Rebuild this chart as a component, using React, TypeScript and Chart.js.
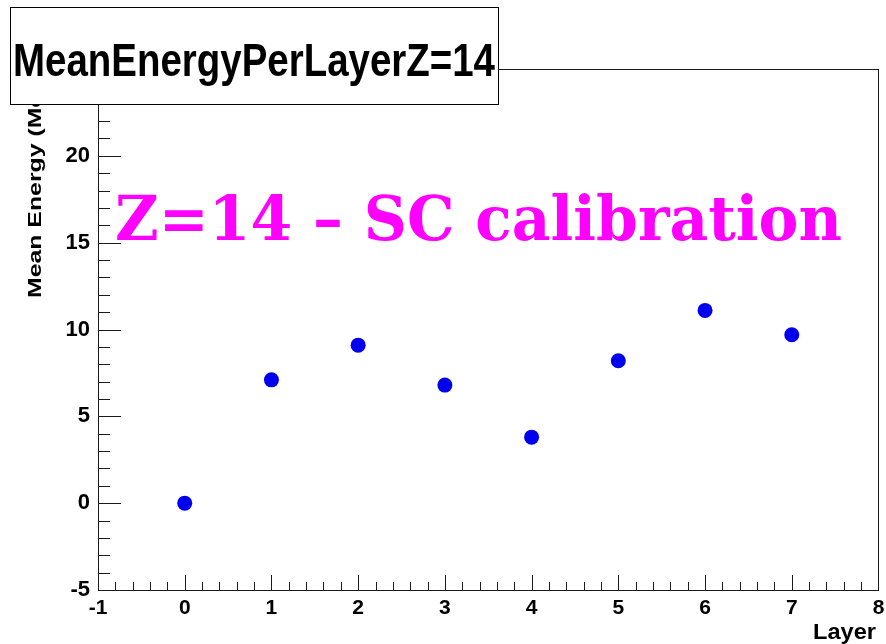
import React, { useEffect, useRef } from "react";
import { Chart, registerables } from "chart.js";

Chart.register(...registerables);

// Mean deposited energy for each calorimeter layer (Z=14)
const layers = [0, 1, 2, 3, 4, 5, 6, 7];
const meanEnergy = [0.0, 7.1, 9.1, 6.8, 3.8, 8.2, 11.1, 9.7];

// Axis ranges and tick steps
const xRange = [-1, 8];
const yRange = [-5, 25];
const xMajorStep = 1;
const xMinorStep = 0.2;
const yMajorStep = 5;
const yMinorStep = 1;

// Text
const titleText = "MeanEnergyPerLayerZ=14";
const noteText = "Z=14 \u2013 SC calibration";
const xTitle = "Layer";
const yTitle = "Mean Energy (MeV)";

const W = 886;
const H = 644;
const SANS = "'Liberation Sans', Arial, sans-serif";

// Draw text squeezed/stretched along its run so it spans a given length.
function fitText(
  ctx: CanvasRenderingContext2D,
  text: string,
  font: string,
  x: number,
  y: number,
  length: number,
  rotate = 0
) {
  ctx.save();
  ctx.font = font;
  const w = ctx.measureText(text).width;
  ctx.translate(x, y);
  if (rotate) ctx.rotate(rotate);
  ctx.scale(length / w, 1);
  ctx.textAlign = "left";
  ctx.textBaseline = "alphabetic";
  ctx.fillText(text, 0, 0);
  ctx.restore();
}

const frameAndTicks = {
  id: "frameAndTicks",
  afterDatasetsDraw(chart: any) {
    const { ctx, chartArea, scales } = chart;
    const { left, right, top, bottom } = chartArea;
    const xs = scales.x;
    const ys = scales.y;
    ctx.save();
    ctx.strokeStyle = "#1a1a1a";
    ctx.lineWidth = 1;
    ctx.beginPath();
    // x ticks, pointing into the frame
    const nx = Math.round((xRange[1] - xRange[0]) / xMinorStep);
    const perMajorX = Math.round(xMajorStep / xMinorStep);
    for (let i = 1; i < nx; i++) {
      const v = xRange[0] + i * xMinorStep;
      const px = Math.round(xs.getPixelForValue(v)) + 0.5;
      const len = i % perMajorX === 0 ? 15 : 8;
      ctx.moveTo(px, bottom);
      ctx.lineTo(px, bottom - len);
    }
    // y ticks, pointing into the frame
    const ny = Math.round((yRange[1] - yRange[0]) / yMinorStep);
    const perMajorY = Math.round(yMajorStep / yMinorStep);
    for (let i = 1; i < ny; i++) {
      const v = yRange[0] + i * yMinorStep;
      const py = Math.round(ys.getPixelForValue(v)) + 0.5;
      const len = i % perMajorY === 0 ? 23 : 12;
      ctx.moveTo(left, py);
      ctx.lineTo(left + len, py);
    }
    ctx.stroke();
    // frame
    ctx.strokeRect(
      Math.round(left) + 0.5,
      Math.round(top) + 0.5,
      Math.round(right - left) - 1,
      Math.round(bottom - top)
    );
    ctx.restore();
  },
  afterDraw(chart: any) {
    const { ctx } = chart;
    ctx.save();
    ctx.fillStyle = "#000";
    // axis titles
    fitText(ctx, xTitle, `bold 22px ${SANS}`, 813, 639, 63);
    fitText(ctx, yTitle, `bold 19px ${SANS}`, 41, 298, 229, -Math.PI / 2);
    // calibration note
    ctx.fillStyle = "#ff00ff";
    fitText(ctx, noteText, `bold 62px 'DejaVu Serif', serif`, 115, 240, 727);
    // title box
    ctx.fillStyle = "#ffffff";
    ctx.fillRect(10, 7, 488, 97);
    ctx.strokeStyle = "#000";
    ctx.lineWidth = 1;
    ctx.strokeRect(10.5, 7.5, 488, 97);
    ctx.fillStyle = "#000";
    fitText(ctx, titleText, `bold 46px ${SANS}`, 13, 76, 482);
    ctx.restore();
  },
};

export default function App() {
  const canvasRef = useRef<HTMLCanvasElement | null>(null);

  useEffect(() => {
    const canvas = canvasRef.current;
    if (!canvas) return;
    const chart = new Chart(canvas, {
      type: "scatter",
      data: {
        datasets: [
          {
            data: layers.map((x, i) => ({ x, y: meanEnergy[i] })),
            backgroundColor: "#0000ee",
            borderColor: "#0000ee",
            pointRadius: 7.5,
            pointHoverRadius: 7.5,
            borderWidth: 0,
          },
        ],
      },
      options: {
        responsive: false,
        devicePixelRatio: 1,
        animation: false,
        events: [],
        layout: { padding: { left: 0, top: 69, right: 6, bottom: 0 } },
        plugins: {
          legend: { display: false },
          tooltip: { enabled: false },
          title: { display: false },
        },
        scales: {
          x: {
            type: "linear",
            min: xRange[0],
            max: xRange[1],
            grid: { display: false, drawTicks: false },
            border: { display: false },
            afterFit: (s: any) => {
              s.height = 54;
              s.paddingLeft = 0;
              s.paddingRight = 0;
            },
            ticks: {
              stepSize: xMajorStep,
              autoSkip: false,
              maxRotation: 0,
              padding: 6,
              color: "#000",
              font: { family: SANS, size: 21, weight: "bold" },
            },
          },
          y: {
            type: "linear",
            min: yRange[0],
            max: yRange[1],
            grid: { display: false, drawTicks: false },
            border: { display: false },
            afterFit: (s: any) => {
              s.width = 98;
              s.paddingTop = 0;
              s.paddingBottom = 0;
            },
            ticks: {
              stepSize: yMajorStep,
              autoSkip: false,
              padding: 8,
              color: "#000",
              font: { family: SANS, size: 22, weight: "bold" },
            },
          },
        },
      },
      plugins: [frameAndTicks],
    });
    return () => chart.destroy();
  }, []);

  return (
    <div
      style={{
        position: "absolute",
        left: 0,
        top: 0,
        width: W,
        height: H,
        background: "#ffffff",
      }}
    >
      <canvas ref={canvasRef} width={W} height={H} style={{ display: "block" }} />
    </div>
  );
}
